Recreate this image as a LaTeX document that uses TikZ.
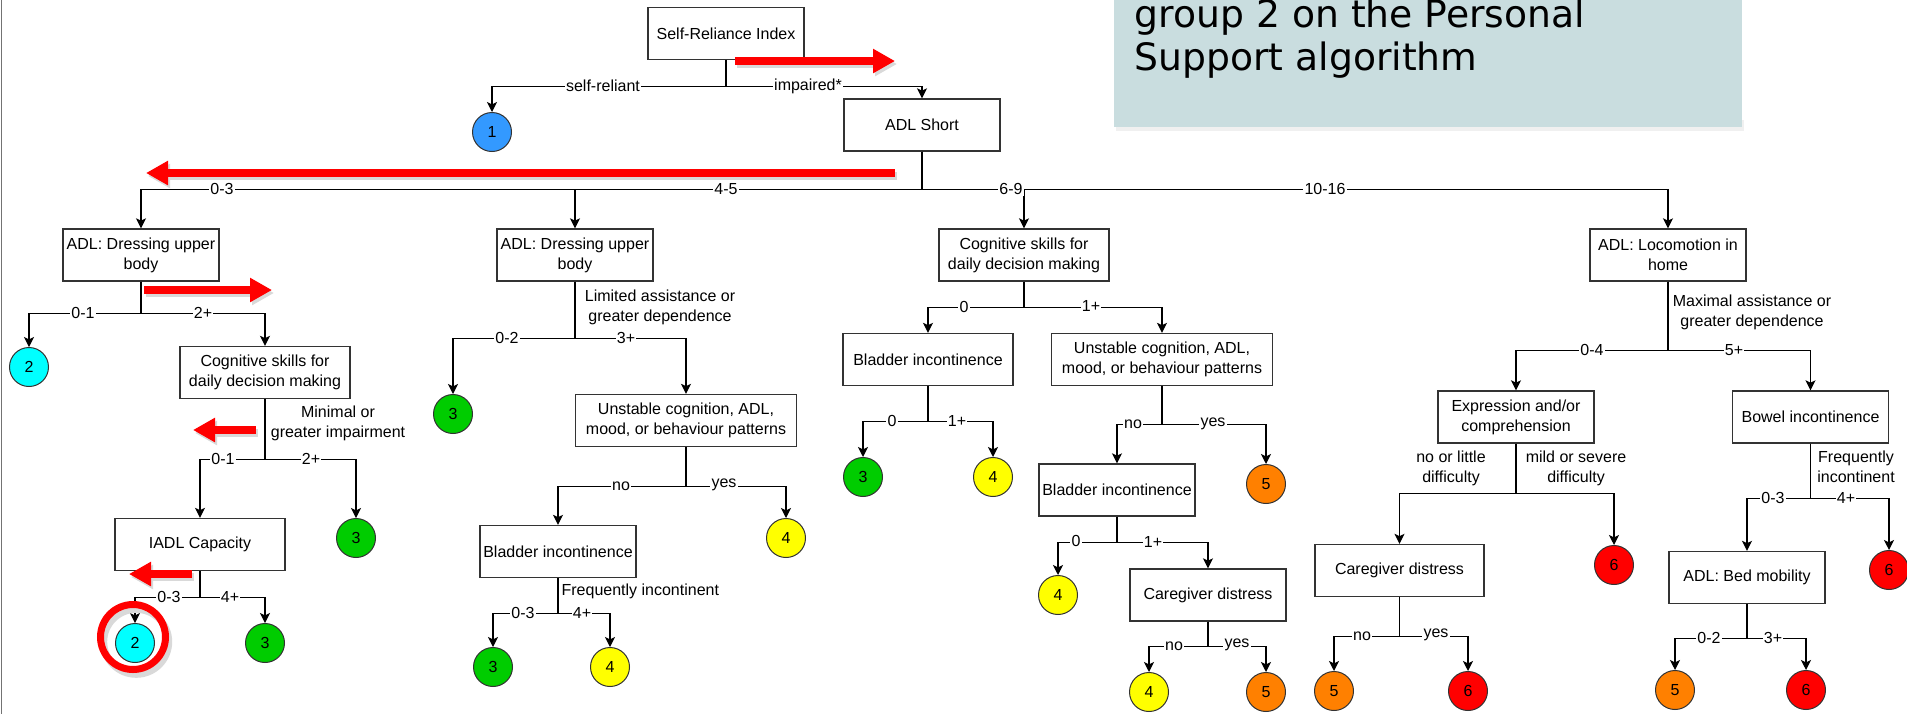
\documentclass[tikz,border=0pt]{standalone}
\usepackage{fontspec}
\setmainfont{Liberation Sans}
\newfontfamily\slidefont{DejaVu Sans}
\usepackage{tikz}
\usepackage{xcolor}
\usetikzlibrary{arrows}
\usetikzlibrary{arrows.meta}

\definecolor{grpone}{RGB}{51,153,255}
\definecolor{grptwo}{RGB}{0,255,255}
\definecolor{grpthree}{RGB}{0,204,0}
\definecolor{grpfour}{RGB}{255,255,0}
\definecolor{grpfive}{RGB}{255,128,0}
\definecolor{grpsix}{RGB}{255,0,0}
\definecolor{slidebox}{RGB}{201,221,223}
\definecolor{boxline}{RGB}{51,51,51}

\tikzset{
	qbox/.style={draw=boxline, line width=0.7pt, fill=white, rectangle, minimum width=78pt, minimum height=26pt, align=center, inner sep=1pt, font=\fontsize{8}{10}\selectfont},
	grp/.style={draw=boxline, line width=0.5pt, circle, minimum size=19.5pt, inner sep=0pt, font=\fontsize{8}{10}\selectfont},
	lbl/.style={fill=white, inner sep=0.6pt, font=\fontsize{8}{10}\selectfont},
	note/.style={inner sep=0pt, align=center, font=\fontsize{8}{10}\selectfont},
	redmark/.style={red, line width=4pt, -{Triangle[length=11pt,width=11.5pt]}},
	redshade/.style={black!15, line width=4pt, -{Triangle[length=11pt,width=11.5pt]}, transform canvas={shift={(1pt,-1.5pt)}}}
}

\begin{document}
\begin{tikzpicture}[x=0.5pt, y=-0.5pt, >={Stealth[length=5pt,width=5pt,inset=1.2pt]}, line width=0.6pt]
	
	\useasboundingbox (0,0) rectangle (1907,714);
	\draw[black!55, line width=0.8pt] (1.5,0) -- (1.5,714);
	
	\fill[black!6] (1116,120) rectangle (1744,131);
	\node[fill=slidebox, minimum width=314pt, minimum height=70pt, inner sep=0pt, anchor=north west] (slide) at (1113,-14) {};
	\node[anchor=base west, inner sep=0pt, font=\slidefont\fontsize{18.85}{21.5}\selectfont] (slideA) at (1134,27) {group 2 on the Personal};
	\node[anchor=base west, inner sep=0pt, font=\slidefont\fontsize{18.85}{21.5}\selectfont] (slideB) at (1134,70) {Support algorithm};
	
	\node[qbox] (sri) at (726,33.5) {Self-Reliance Index};
	\node[qbox] (adls) at (922,125) {ADL Short};
	\node[qbox] (dressA) at (141,255) {ADL: Dressing upper\\body};
	\node[qbox, minimum width=85pt] (cogA) at (265,372.5) {Cognitive skills for\\daily decision making};
	\node[qbox, minimum width=85pt] (iadl) at (200,544.5) {IADL Capacity};
	\node[qbox] (dressB) at (575,255) {ADL: Dressing upper\\body};
	\node[qbox, minimum width=110.5pt] (unstB) at (686,420.5) {Unstable cognition, ADL,\\mood, or behaviour patterns};
	\node[qbox] (bladB) at (558,551.5) {Bladder incontinence};
	\node[qbox, minimum width=85pt] (cogC) at (1024,255) {Cognitive skills for\\daily decision making};
	\node[qbox, minimum width=85pt] (bladC) at (928,359.5) {Bladder incontinence};
	\node[qbox, minimum width=110.5pt] (unstC) at (1162,359.5) {Unstable cognition, ADL,\\mood, or behaviour patterns};
	\node[qbox] (bladD) at (1117,490) {Bladder incontinence};
	\node[qbox] (careD) at (1208,595) {Caregiver distress};
	\node[qbox] (loco) at (1668,255) {ADL: Locomotion in\\home};
	\node[qbox] (expr) at (1516,417) {Expression and/or\\comprehension};
	\node[qbox] (bowel) at (1810.5,417) {Bowel incontinence};
	\node[qbox, minimum width=84.5pt] (careE) at (1399.5,570.5) {Caregiver distress};
	\node[qbox] (bed) at (1747,577.5) {ADL: Bed mobility};
	
	\node[grp, fill=grpone] (g1) at (492,132) {1};
	\node[grp, fill=grptwo] (g2a) at (29,367) {2};
	\node[grp, fill=grpthree] (g3a) at (356,538) {3};
	\node[grp, fill=grptwo] (g2b) at (135,643) {2};
	\node[grp, fill=grpthree] (g3b) at (265,643) {3};
	\node[grp, fill=grpthree] (g3c) at (453,414) {3};
	\node[grp, fill=grpfour] (g4a) at (786,538) {4};
	\node[grp, fill=grpthree] (g3d) at (493,667) {3};
	\node[grp, fill=grpfour] (g4b) at (610,667) {4};
	\node[grp, fill=grpthree] (g3e) at (863,477) {3};
	\node[grp, fill=grpfour] (g4c) at (993,477) {4};
	\node[grp, fill=grpfive] (g5a) at (1266,484) {5};
	\node[grp, fill=grpfour] (g4d) at (1058,595) {4};
	\node[grp, fill=grpfour] (g4e) at (1149,692) {4};
	\node[grp, fill=grpfive] (g5b) at (1266,692) {5};
	\node[grp, fill=grpsix] (g6a) at (1614,565) {6};
	\node[grp, fill=grpfive] (g5c) at (1334,691) {5};
	\node[grp, fill=grpsix] (g6b) at (1468,691) {6};
	\node[grp, fill=grpsix] (g6c) at (1889,570) {6};
	\node[grp, fill=grpfive] (g5d) at (1675,690) {5};
	\node[grp, fill=grpsix] (g6d) at (1806,690) {6};
	
	\draw[->] (sri.south) -- ++(0,26.5) -| (g1.north);
	\draw[->] (sri.south) -- ++(0,26.5) -| (adls.north);
	\draw[->] (adls.south) -- ++(0,38) -| (dressA.north);
	\draw[->] (adls.south) -- ++(0,38) -| (dressB.north);
	\draw[->] (adls.south) -- ++(0,38) -| (cogC.north);
	\draw[->] (adls.south) -- ++(0,38) -| (loco.north);
	\draw[->] (dressA.south) -- ++(0,32) -| (g2a.north);
	\draw[->] (dressA.south) -- ++(0,32) -| (cogA.north);
	\draw[->] (cogA.south) -- ++(0,60.5) -| (iadl.north);
	\draw[->] (cogA.south) -- ++(0,60.5) -| (g3a.north);
	\draw[->] (iadl.south) -- ++(0,26.5) -| (g2b.north);
	\draw[->] (iadl.south) -- ++(0,26.5) -| (g3b.north);
	\draw[->] (dressB.south) -- ++(0,57) -| (g3c.north);
	\draw[->] (dressB.south) -- ++(0,57) -| (unstB.north);
	\draw[->] (unstB.south) -- ++(0,39.5) -| (bladB.north);
	\draw[->] (unstB.south) -- ++(0,39.5) -| (g4a.north);
	\draw[->] (bladB.south) -- ++(0,35.5) -| (g3d.north);
	\draw[->] (bladB.south) -- ++(0,35.5) -| (g4b.north);
	\draw[->] (cogC.south) -- ++(0,26) -| (bladC.north);
	\draw[->] (cogC.south) -- ++(0,26) -| (unstC.north);
	\draw[->] (bladC.south) -- ++(0,35.5) -| (g3e.north);
	\draw[->] (bladC.south) -- ++(0,35.5) -| (g4c.north);
	\draw[->] (unstC.south) -- ++(0,38.5) -| (bladD.north);
	\draw[->] (unstC.south) -- ++(0,38.5) -| (g5a.north);
	\draw[->] (bladD.south) -- ++(0,26) -| (g4d.north);
	\draw[->] (bladD.south) -- ++(0,26) -| (careD.north);
	\draw[->] (careD.south) -- ++(0,25) -| (g4e.north);
	\draw[->] (careD.south) -- ++(0,25) -| (g5b.north);
	\draw[->] (loco.south) -- ++(0,69) -| (expr.north);
	\draw[->] (loco.south) -- ++(0,69) -| (bowel.north);
	\draw[->] (expr.south) -- ++(0,50) -| (careE.north);
	\draw[->] (expr.south) -- ++(0,50) -| (g6a.north);
	\draw[->] (careE.south) -- ++(0,39.5) -| (g5c.north);
	\draw[->] (careE.south) -- ++(0,39.5) -| (g6b.north);
	\draw[->] (bowel.south) -- ++(0,55) -| (bed.north);
	\draw[->] (bowel.south) -- ++(0,55) -| (g6c.north);
	\draw[->] (bed.south) -- ++(0,34.5) -| (g5d.north);
	\draw[->] (bed.south) -- ++(0,34.5) -| (g6d.north);
	
	\node[lbl] (lSelf) at (603,86) {self-reliant};
	\node[lbl] (lImp) at (808,86) {impaired*};
	\node[lbl] (lShA) at (222,189) {0-3};
	\node[lbl] (lShB) at (726,189) {4-5};
	\node[lbl] (lShC) at (1011,189) {6-9};
	\node[lbl] (lShD) at (1325,189) {10-16};
	\node[lbl] (lDrA1) at (83,313) {0-1};
	\node[lbl] (lDrA2) at (203,313) {2+};
	\node[lbl] (lCoA1) at (223,459) {0-1};
	\node[lbl] (lCoA2) at (311,459) {2+};
	\node[lbl] (lIa1) at (169,597) {0-3};
	\node[lbl] (lIa2) at (230,597) {4+};
	\node[lbl] (lDrB1) at (507,338) {0-2};
	\node[lbl] (lDrB2) at (626,338) {3+};
	\node[lbl] (lUnB1) at (621,486) {no};
	\node[lbl] (lUnB2) at (724,485) {yes};
	\node[lbl] (lBlB1) at (523,613) {0-3};
	\node[lbl] (lBlB2) at (582,613) {4+};
	\node[lbl] (lCoC1) at (964,307) {0};
	\node[lbl] (lCoC2) at (1091,306) {1+};
	\node[lbl] (lBlC1) at (892,421) {0};
	\node[lbl] (lBlC2) at (957,421) {1+};
	\node[lbl] (lUnC1) at (1133,424) {no};
	\node[lbl] (lUnC2) at (1213,424) {yes};
	\node[lbl] (lBlD1) at (1076,541) {0};
	\node[lbl] (lBlD2) at (1153,542) {1+};
	\node[lbl] (lCaD1) at (1174,646) {no};
	\node[lbl] (lCaD2) at (1237,645) {yes};
	\node[lbl] (lLo1) at (1592,350) {0-4};
	\node[lbl] (lLo2) at (1734,350) {5+};
	\node[lbl] (lCaE1) at (1362,636) {no};
	\node[lbl] (lCaE2) at (1436,635) {yes};
	\node[lbl] (lBo1) at (1773,498) {0-3};
	\node[lbl] (lBo2) at (1846,498) {4+};
	\node[lbl] (lBe1) at (1709,638) {0-2};
	\node[lbl] (lBe2) at (1773,638) {3+};
	
	\node[note] (nCoA) at (338,423) {Minimal or\\greater impairment};
	\node[note] (nDrB) at (660,307.5) {Limited assistance or\\greater dependence};
	\node[note, anchor=west] (nBlB) at (561,591) {Frequently incontinent};
	\node[note] (nLo) at (1752,312.5) {Maximal assistance or\\greater dependence};
	\node[note] (nEx1) at (1451,468) {no or little\\difficulty};
	\node[note] (nEx2) at (1576,468) {mild or severe\\difficulty};
	\node[note] (nBo) at (1856,467) {Frequently\\incontinent};
	
	\coordinate (rA1) at (735,61);
	\coordinate (rA2) at (895,61);
	\coordinate (rB1) at (895,173);
	\coordinate (rB2) at (146,173);
	\coordinate (rC1) at (144,290);
	\coordinate (rC2) at (272,290);
	\coordinate (rD1) at (256,430);
	\coordinate (rD2) at (193,430);
	\coordinate (rE1) at (192,574);
	\coordinate (rE2) at (129,574);
	
	\draw[redshade] (rA1) -- (rA2);
	\draw[redshade] (rB1) -- (rB2);
	\draw[redshade] (rC1) -- (rC2);
	\draw[redshade] (rD1) -- (rD2);
	\draw[redshade] (rE1) -- (rE2);
	\draw[redmark] (rA1) -- (rA2);
	\draw[redmark] (rB1) -- (rB2);
	\draw[redmark] (rC1) -- (rC2);
	\draw[redmark] (rD1) -- (rD2);
	\draw[redmark] (rE1) -- (rE2);
	
	\node[circle, draw=black!15, line width=3.5pt, minimum size=32.5pt, inner sep=0pt, transform canvas={shift={(0.8pt,-1.2pt)}}] (ringshade) at (133,637) {};
	\node[circle, draw=red, line width=3.5pt, minimum size=32.5pt, inner sep=0pt] (ring) at (133,637) {};
	
\end{tikzpicture}
\end{document}
